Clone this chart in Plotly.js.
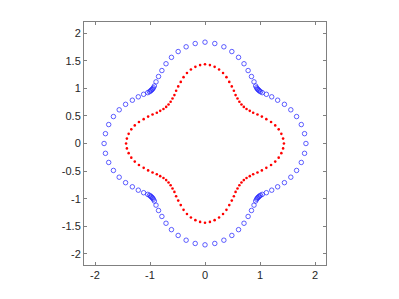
<!DOCTYPE html>
<html>
<head>
<meta charset="utf-8">
<script src="https://cdn.plot.ly/plotly-3.0.1.min.js"></script>
<style>html,body{margin:0;padding:0;background:#fff;}#plot{width:399px;height:299px;}</style>
</head>
<body>
<div id="plot"></div>
<script>
// inner curve (red dots)
const redX = [1.435,1.420,1.388,1.340,1.277,1.201,1.115,1.034,0.954,0.876,0.814,0.755,0.706,0.663,0.625,0.591,0.556,0.525,0.487,0.441,0.390,0.328,0.256,0.175,0.089,0,
  -0.089,-0.175,-0.256,-0.328,-0.390,-0.441,-0.487,-0.525,-0.556,-0.591,-0.625,-0.663,-0.706,-0.755,-0.814,-0.876,-0.954,-1.034,-1.115,-1.201,-1.277,-1.340,-1.388,-1.420,-1.435,
  -1.420,-1.388,-1.340,-1.277,-1.201,-1.115,-1.034,-0.954,-0.876,-0.814,-0.755,-0.706,-0.663,-0.625,-0.591,-0.556,-0.525,-0.487,-0.441,-0.390,-0.328,-0.256,-0.175,-0.089,0,
  0.089,0.175,0.256,0.328,0.390,0.441,0.487,0.525,0.556,0.591,0.625,0.663,0.706,0.755,0.814,0.876,0.954,1.034,1.115,1.201,1.277,1.340,1.388,1.420];
const redY = [0,0.089,0.175,0.256,0.328,0.390,0.441,0.487,0.525,0.556,0.591,0.625,0.663,0.706,0.755,0.814,0.876,0.954,1.034,1.115,1.201,1.277,1.340,1.388,1.420,1.435,
  1.420,1.388,1.340,1.277,1.201,1.115,1.034,0.954,0.876,0.814,0.755,0.706,0.663,0.625,0.591,0.556,0.525,0.487,0.441,0.390,0.328,0.256,0.175,0.089,0,
  -0.089,-0.175,-0.256,-0.328,-0.390,-0.441,-0.487,-0.525,-0.556,-0.591,-0.625,-0.663,-0.706,-0.755,-0.814,-0.876,-0.954,-1.034,-1.115,-1.201,-1.277,-1.340,-1.388,-1.420,-1.435,
  -1.420,-1.388,-1.340,-1.277,-1.201,-1.115,-1.034,-0.954,-0.876,-0.814,-0.755,-0.706,-0.663,-0.625,-0.591,-0.556,-0.525,-0.487,-0.441,-0.390,-0.328,-0.256,-0.175,-0.089];

// outer curve (blue open circles)
const blueX = [1.835,1.810,1.751,1.665,1.560,1.444,1.321,1.213,1.116,1.041,1.009,0.990,0.977,0.964,0.952,0.938,0.921,0.891,0.845,0.784,0.709,0.610,0.488,0.343,0.178,0,
  -0.178,-0.343,-0.488,-0.610,-0.709,-0.784,-0.845,-0.891,-0.921,-0.938,-0.952,-0.964,-0.977,-0.990,-1.009,-1.041,-1.116,-1.213,-1.321,-1.444,-1.560,-1.665,-1.751,-1.810,-1.835,
  -1.810,-1.751,-1.665,-1.560,-1.444,-1.321,-1.213,-1.116,-1.041,-1.009,-0.990,-0.977,-0.964,-0.952,-0.938,-0.921,-0.891,-0.845,-0.784,-0.709,-0.610,-0.488,-0.343,-0.178,0,
  0.178,0.343,0.488,0.610,0.709,0.784,0.845,0.891,0.921,0.938,0.952,0.964,0.977,0.990,1.009,1.041,1.116,1.213,1.321,1.444,1.560,1.665,1.751,1.810];
const blueY = [0,0.178,0.343,0.488,0.610,0.709,0.784,0.845,0.891,0.921,0.938,0.952,0.964,0.977,0.990,1.009,1.041,1.116,1.213,1.321,1.444,1.560,1.665,1.751,1.810,1.835,
  1.810,1.751,1.665,1.560,1.444,1.321,1.213,1.116,1.041,1.009,0.990,0.977,0.964,0.952,0.938,0.921,0.891,0.845,0.784,0.709,0.610,0.488,0.343,0.178,0,
  -0.178,-0.343,-0.488,-0.610,-0.709,-0.784,-0.845,-0.891,-0.921,-0.938,-0.952,-0.964,-0.977,-0.990,-1.009,-1.041,-1.116,-1.213,-1.321,-1.444,-1.560,-1.665,-1.751,-1.810,-1.835,
  -1.810,-1.751,-1.665,-1.560,-1.444,-1.321,-1.213,-1.116,-1.041,-1.009,-0.990,-0.977,-0.964,-0.952,-0.938,-0.921,-0.891,-0.845,-0.784,-0.709,-0.610,-0.488,-0.343,-0.178];

const xTickVals = [-2,-1,0,1,2];
const xTickText = ['-2','-1','0','1','2'];
const yTickVals = [-2,-1.5,-1,-0.5,0,0.5,1,1.5,2];
const yTickText = ['-2','-1.5','-1','-0.5','0','0.5','1','1.5','2'];

const traces = [
  {x: blueX, y: blueY, type: 'scatter', mode: 'markers',
   marker: {symbol: 'circle-open', size: 4.5, color: '#2a2aff', line: {width: 0.75, color: '#2a2aff'}}},
  {x: redX, y: redY, type: 'scatter', mode: 'markers',
   marker: {symbol: 'circle', size: 2.6, color: '#ff0000', line: {width: 0}}}
];

const axisCommon = {
  showgrid: false, zeroline: false, showline: true, linecolor: '#808080', linewidth: 1,
  mirror: 'ticks', ticks: 'inside', ticklen: 3, tickcolor: '#808080', tickwidth: 1,
  tickfont: {family: 'Liberation Sans, Arial, sans-serif', size: 11, color: '#262626'},
  tickmode: 'array'
};

const layout = {
  width: 399, height: 299,
  margin: {l: 84, r: 73, t: 22, b: 34, pad: 0},
  paper_bgcolor: '#ffffff', plot_bgcolor: '#ffffff',
  showlegend: false,
  xaxis: Object.assign({}, axisCommon, {range: [-2.2, 2.2], tickvals: xTickVals, ticktext: xTickText}),
  yaxis: Object.assign({}, axisCommon, {range: [-2.2, 2.2], tickvals: yTickVals, ticktext: yTickText})
};

Plotly.newPlot('plot', traces, layout, {staticPlot: true, displayModeBar: false});
</script>
</body>
</html>
